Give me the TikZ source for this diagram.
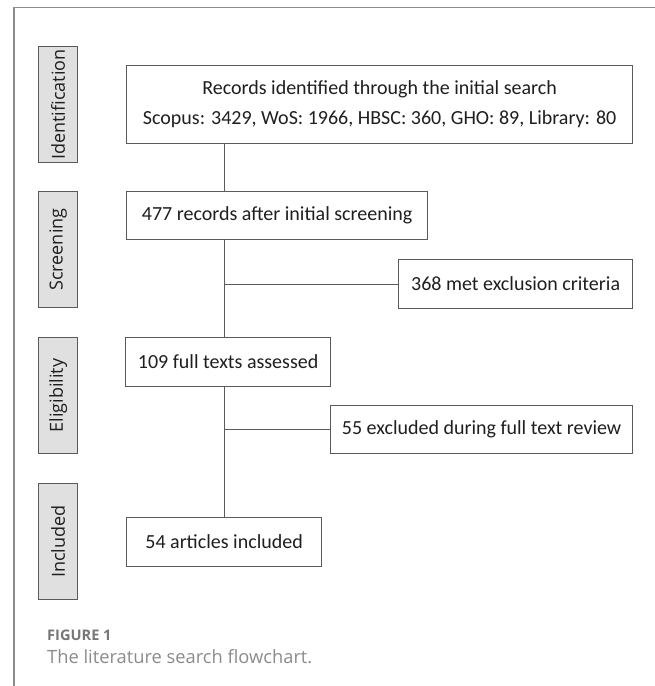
\documentclass[tikz,border=0pt]{standalone}
\usepackage{fontspec}
\usepackage{graphicx}
\setmainfont{Carlito}
\newfontfamily\osans{Open Sans}
\definecolor{boxc}{HTML}{5A5A5A}
\definecolor{sidefill}{HTML}{E0E0E0}
\definecolor{framec}{HTML}{8C8C8C}
\definecolor{capc}{HTML}{777777}
\begin{document}
\begin{tikzpicture}[x=1pt,y=-1pt,
  box/.style={draw=boxc, line width=1.2pt, fill=white, inner sep=0pt, anchor=north west,
    align=center, text=black!88, font=\fontsize{20}{30}\selectfont},
  sidebox/.style={draw=boxc, line width=1.2pt, fill=sidefill, inner sep=0pt, anchor=north west,
    minimum width=39pt, minimum height=116pt, text=black!88, font=\osans\fontsize{18}{20}\selectfont},
  conn/.style={draw=boxc, line width=1.2pt},
  frame/.style={draw=framec, line width=1.8pt}]
\useasboundingbox (0,0) rectangle (655,686);
\draw[frame] (655,7.5) -- (14,7.5) -- (14,686);

\node[sidebox] (lid) at (38,46) {\rotatebox{90}{Identification}};
\node[sidebox] (lsc) at (38,191) {\rotatebox{90}{Screening}};
\node[sidebox] (lel) at (38,337) {\rotatebox{90}{Eligibility}};
\node[sidebox] (lin) at (38,483) {\rotatebox{90}{Included}};

\node[box, minimum width=506pt, minimum height=78pt] (rec) at (126,65)
  {Records identified through the initial search\\Scopus: 3429, WoS: 1966, HBSC: 360, GHO: 89, Library: 80};
\node[box, minimum width=301pt, minimum height=48pt] (scr) at (126,191) {477 records after initial screening};
\node[box, minimum width=234pt, minimum height=49pt] (ex1) at (398,259) {368 met exclusion criteria};
\node[box, minimum width=205pt, minimum height=49pt] (ful) at (125,337) {109 full texts assessed};
\node[box, minimum width=302pt, minimum height=48pt] (ex2) at (330,405) {55 excluded during full text review};
\node[box, minimum width=195pt, minimum height=49pt] (inc) at (126,517) {54 articles included};

\draw[conn] (rec.south -| inc.north) -- (scr.north -| inc.north);
\draw[conn] (scr.south -| inc.north) -- (ful.north -| inc.north);
\draw[conn] (ful.south -| inc.north) -- (inc.north);
\coordinate (j1) at (inc.north |- ex1.west);
\coordinate (j2) at (inc.north |- ex2.west);
\draw[conn] (j1) -- (ex1.west);
\draw[conn] (j2) -- (ex2.west);

\node[anchor=base west, inner sep=0pt, text=capc, font=\osans\bfseries\fontsize{14.6}{16}\selectfont] (fig) at (47,640) {FIGURE 1};
\node[anchor=base west, inner sep=0pt, text=capc!85, font=\osans\fontsize{18.3}{20}\selectfont] (cap) at (47,663) {The literature search flowchart.};
\end{tikzpicture}
\end{document}
